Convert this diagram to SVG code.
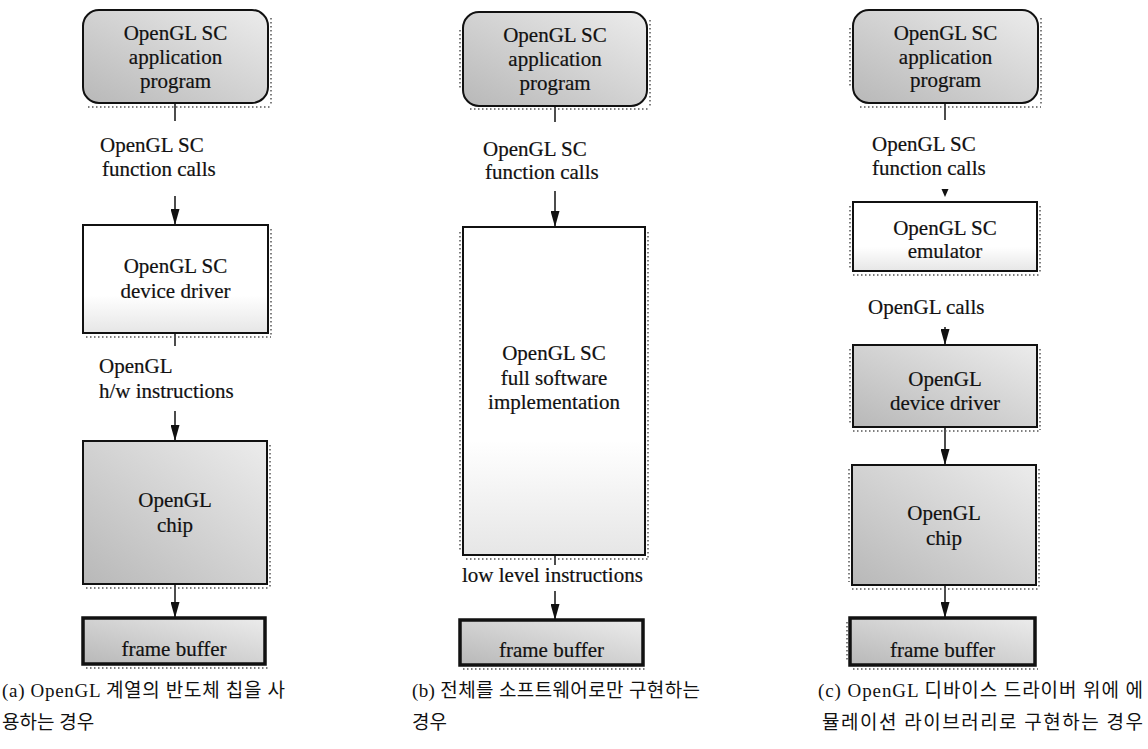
<svg xmlns="http://www.w3.org/2000/svg" width="1148" height="749" viewBox="0 0 1148 749" font-family="'Liberation Serif', serif">
<style>
.box{stroke:#111;stroke-width:2}
.fb{stroke:#111;stroke-width:3.5}
.shade{fill:url(#gShade)}
.white{fill:url(#gWhite)}
.dots{fill:none;stroke:#555;stroke-width:1.5;stroke-dasharray:1.5 2.5}
text{font-family:"Liberation Serif",serif}
.t{font-size:21px;fill:#111;stroke:#111;stroke-width:0.2}
.mid{text-anchor:middle}
.cap{font-family:"Liberation Serif","Noto Sans CJK KR",serif;font-size:19px;fill:#111}
.conn{stroke:#111;stroke-width:1.5;fill:none}
</style>
<defs>
<linearGradient id="gShade" x1="1" y1="0" x2="0" y2="1">
<stop offset="0" stop-color="#ececec"/>
<stop offset="1" stop-color="#b8b8b8"/>
</linearGradient>
<linearGradient id="gWhite" x1="0" y1="0" x2="0" y2="1">
<stop offset="0" stop-color="#ffffff"/>
<stop offset="0.65" stop-color="#ffffff"/>
<stop offset="1" stop-color="#e6e6e6"/>
</linearGradient>
<marker id="ah" viewBox="0 0 16 9" markerWidth="16" markerHeight="9" refX="16" refY="4.5" orient="auto" markerUnits="userSpaceOnUse">
<path d="M0,0 L16,4.5 L0,9 z" fill="#111"/>
</marker>
</defs>

<g id="connectors">
<line class="conn" x1="175" y1="103" x2="175" y2="121"/>
<line class="conn" x1="175" y1="196" x2="175" y2="225" marker-end="url(#ah)"/>
<line class="conn" x1="175" y1="333" x2="175" y2="346"/>
<line class="conn" x1="175" y1="411" x2="175" y2="441" marker-end="url(#ah)"/>
<line class="conn" x1="175" y1="584" x2="175" y2="618" marker-end="url(#ah)"/>
<line class="conn" x1="555" y1="106" x2="555" y2="122"/>
<line class="conn" x1="555" y1="191" x2="555" y2="227" marker-end="url(#ah)"/>
<line class="conn" x1="555" y1="555" x2="555" y2="565"/>
<line class="conn" x1="555" y1="591" x2="555" y2="620" marker-end="url(#ah)"/>
<line class="conn" x1="945" y1="103" x2="945" y2="120"/>
<polygon points="941.5,189 948.5,189 945,197" fill="#111"/>
<line class="conn" x1="945" y1="327" x2="945" y2="345" marker-end="url(#ah)"/>
<line class="conn" x1="945" y1="427" x2="945" y2="465" marker-end="url(#ah)"/>
<line class="conn" x1="945" y1="585" x2="945" y2="618" marker-end="url(#ah)"/>
</g>

<g id="a-app">
<rect class="box shade" x="83" y="10" width="185" height="93" rx="16"/>
<path class="dots" d="M271,18 V106 M88,107 H271"/>
<text class="t mid" x="175.5" y="40">OpenGL SC</text>
<text class="t mid" x="175.5" y="64">application</text>
<text class="t mid" x="175.5" y="88">program</text>
</g>
<g id="a-driver">
<rect class="box white" x="83" y="225" width="185" height="108"/>
<path class="dots" d="M271,229 V336 M86,337 H271"/>
<text class="t mid" x="175.5" y="273">OpenGL SC</text>
<text class="t mid" x="175.5" y="298">device driver</text>
</g>
<g id="a-chip">
<rect class="box shade" x="83" y="441" width="184" height="143"/>
<path class="dots" d="M270,445 V587 M86,588 H270"/>
<text class="t mid" x="175" y="507">OpenGL</text>
<text class="t mid" x="175" y="532">chip</text>
</g>
<g id="a-fb">
<rect class="fb shade" x="83" y="618" width="182" height="46"/>
<path class="dots" d="M86,668 H268"/>
<text class="t mid" x="174" y="656">frame buffer</text>
</g>

<g id="b-app">
<rect class="box shade" x="463" y="12" width="184" height="94" rx="16"/>
<path class="dots" d="M460,30 V90 M650,20 V108 M470,109 H650"/>
<text class="t mid" x="555" y="42">OpenGL SC</text>
<text class="t mid" x="555" y="66">application</text>
<text class="t mid" x="555" y="90">program</text>
</g>
<g id="b-impl">
<rect class="box white" x="463" y="227" width="182" height="328"/>
<path class="dots" d="M460,232 V552 M648,232 V558 M466,559 H648"/>
<text class="t mid" x="554" y="360">OpenGL SC</text>
<text class="t mid" x="554" y="385">full software</text>
<text class="t mid" x="554" y="409">implementation</text>
</g>
<g id="b-fb">
<rect class="fb shade" x="460" y="620" width="183" height="45"/>
<path class="dots" d="M463,669 H646"/>
<text class="t mid" x="551.5" y="657">frame buffer</text>
</g>

<g id="c-app">
<rect class="box shade" x="853" y="10" width="185" height="93" rx="16"/>
<path class="dots" d="M850,28 V88 M1041,18 V106 M860,107 H1041"/>
<text class="t mid" x="945.5" y="40">OpenGL SC</text>
<text class="t mid" x="945.5" y="64">application</text>
<text class="t mid" x="945.5" y="87">program</text>
</g>
<g id="c-emu">
<rect class="box white" x="853" y="202" width="184" height="69"/>
<path class="dots" d="M850,206 V268 M1040,206 V272 M853,275 H1040"/>
<text class="t mid" x="945" y="235">OpenGL SC</text>
<text class="t mid" x="945" y="258">emulator</text>
</g>
<g id="c-driver">
<rect class="box shade" x="853" y="345" width="184" height="82"/>
<path class="dots" d="M850,349 V424 M1040,349 V430 M853,431 H1040"/>
<text class="t mid" x="945" y="386">OpenGL</text>
<text class="t mid" x="945" y="410">device driver</text>
</g>
<g id="c-chip">
<rect class="box shade" x="852" y="465" width="184" height="120"/>
<path class="dots" d="M849,469 V582 M1039,469 V588 M852,589 H1039"/>
<text class="t mid" x="944" y="520">OpenGL</text>
<text class="t mid" x="944" y="545">chip</text>
</g>
<g id="c-fb">
<rect class="fb shade" x="850" y="618" width="185" height="47"/>
<path class="dots" d="M847,622 V662 M853,669 H1038"/>
<text class="t mid" x="942.5" y="657">frame buffer</text>
</g>

<g id="labels">
<text class="t" x="100" y="152">OpenGL SC</text>
<text class="t" x="102" y="176">function calls</text>
<text class="t" x="99" y="373">OpenGL</text>
<text class="t" x="99" y="398">h/w instructions</text>
<text class="t" x="483" y="156">OpenGL SC</text>
<text class="t" x="485" y="179">function calls</text>
<text class="t" x="462" y="582">low level instructions</text>
<text class="t" x="872" y="151">OpenGL SC</text>
<text class="t" x="872" y="175">function calls</text>
<text class="t" x="868" y="314">OpenGL calls</text>
</g>

<g id="captions">
<text class="cap" x="2" y="697" textLength="283" lengthAdjust="spacing">(a) OpenGL 계열의 반도체 칩을 사</text>
<text class="cap" x="2" y="729">용하는 경우</text>
<text class="cap" x="412" y="697" textLength="288" lengthAdjust="spacing">(b) 전체를 소프트웨어로만 구현하는</text>
<text class="cap" x="412" y="729">경우</text>
<text class="cap" x="818" y="697" textLength="325" lengthAdjust="spacing">(c) OpenGL 디바이스 드라이버 위에 에</text>
<text class="cap" x="822" y="729" textLength="321" lengthAdjust="spacing">뮬레이션 라이브러리로 구현하는 경우</text>
</g>
</svg>
